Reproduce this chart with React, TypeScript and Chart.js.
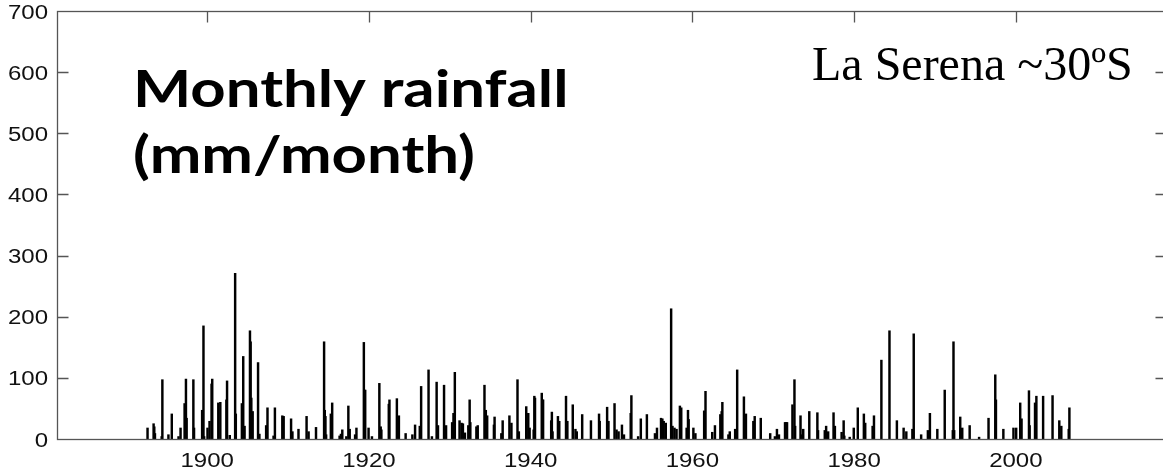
import React, { useEffect, useRef } from "react";
import { Chart, registerables } from "chart.js";

Chart.register(...registerables);

// Axis ranges and ticks
const X_MIN = 1890;
const X_MAX = 2010;
const Y_MIN = 0;
const Y_MAX = 700;
const xTicks = [1900, 1920, 1940, 1960, 1980, 2000];
const yTicks = [0, 100, 200, 300, 400, 500, 600, 700];

const titleLines = ["Monthly rainfall", "(mm/month)"];
const stationLabel = "La Serena ~30ºS";

// Monthly rainfall spikes: [year, month, mm]
const rain1890s: number[][] = [
  [1892, 8, 18],
  [1893, 5, 25], [1893, 6, 20], [1893, 7, 9],
  [1894, 5, 4], [1894, 6, 97],
  [1895, 3, 7], [1895, 8, 41],
  [1896, 6, 4], [1896, 9, 18],
  [1897, 3, 58], [1897, 5, 98], [1897, 6, 34],
  [1898, 4, 97], [1898, 5, 18],
  [1899, 5, 47], [1899, 7, 185], [1899, 8, 4],
];
const rain1900s: number[][] = [
  [1900, 1, 18], [1900, 4, 29], [1900, 7, 90], [1900, 8, 98],
  [1901, 5, 59], [1901, 8, 60],
  [1902, 5, 64], [1902, 6, 95], [1902, 10, 6],
  [1903, 6, 271], [1903, 7, 41],
  [1904, 4, 58], [1904, 6, 135], [1904, 8, 21],
  [1905, 4, 177], [1905, 5, 159], [1905, 6, 67], [1905, 8, 45],
  [1906, 4, 125], [1906, 6, 8],
  [1907, 4, 22], [1907, 6, 51],
  [1908, 3, 5], [1908, 5, 51],
  [1909, 4, 38], [1909, 6, 37],
];
const rain1910s: number[][] = [
  [1910, 5, 33], [1910, 7, 12],
  [1911, 4, 16],
  [1912, 4, 37], [1912, 7, 12],
  [1913, 6, 19],
  [1914, 6, 159], [1914, 7, 47], [1914, 8, 37], [1914, 9, 7],
  [1915, 4, 41], [1915, 6, 59],
  [1916, 5, 5], [1916, 7, 8], [1916, 9, 15],
  [1917, 3, 4], [1917, 6, 54], [1917, 8, 16],
  [1918, 4, 7], [1918, 6, 18],
  [1919, 5, 158], [1919, 6, 80], [1919, 7, 80], [1919, 12, 18],
];
const rain1920s: number[][] = [
  [1920, 5, 4],
  [1921, 4, 91], [1921, 6, 20], [1921, 7, 15],
  [1922, 6, 57], [1922, 7, 64],
  [1923, 6, 66], [1923, 9, 38],
  [1924, 7, 9],
  [1925, 5, 7], [1925, 9, 23],
  [1926, 4, 21], [1926, 6, 86],
  [1927, 5, 113], [1927, 10, 4],
  [1928, 5, 93], [1928, 7, 22],
  [1929, 4, 88], [1929, 7, 22],
];
const rain1930s: number[][] = [
  [1930, 4, 27], [1930, 6, 42], [1930, 8, 109],
  [1931, 3, 30], [1931, 6, 26], [1931, 8, 25], [1931, 11, 10],
  [1932, 4, 22], [1932, 6, 64], [1932, 7, 27],
  [1933, 4, 20], [1933, 6, 22],
  [1934, 4, 88], [1934, 6, 47], [1934, 8, 38],
  [1935, 6, 23], [1935, 7, 36],
  [1936, 5, 9], [1936, 7, 30],
  [1937, 5, 38], [1937, 8, 26],
  [1938, 5, 97], [1938, 7, 12],
  [1939, 6, 53], [1939, 9, 42], [1939, 11, 18],
];
const rain1940s: number[][] = [
  [1940, 5, 15], [1940, 6, 70], [1940, 7, 67],
  [1941, 5, 75], [1941, 6, 64], [1941, 7, 64],
  [1942, 7, 30], [1942, 8, 44], [1942, 9, 12],
  [1943, 5, 37], [1943, 7, 29],
  [1944, 5, 70], [1944, 7, 29],
  [1945, 3, 56], [1945, 7, 16], [1945, 9, 12],
  [1946, 5, 40],
  [1947, 6, 30],
  [1948, 6, 41], [1948, 7, 29],
  [1949, 6, 52], [1949, 8, 29],
];
const rain1950s: number[][] = [
  [1950, 5, 58], [1950, 8, 15], [1950, 11, 12],
  [1951, 4, 23], [1951, 7, 7],
  [1952, 5, 42], [1952, 6, 71],
  [1953, 4, 4], [1953, 8, 33],
  [1954, 5, 40],
  [1955, 5, 9], [1955, 8, 18],
  [1956, 2, 34], [1956, 4, 33], [1956, 6, 29], [1956, 9, 26],
  [1957, 5, 213], [1957, 7, 21], [1957, 10, 18],
  [1958, 1, 16], [1958, 6, 54], [1958, 8, 51],
  [1959, 4, 18], [1959, 6, 47], [1959, 7, 32],
];
const rain1960s: number[][] = [
  [1960, 2, 18], [1960, 5, 9],
  [1961, 6, 46], [1961, 8, 78],
  [1962, 6, 11], [1962, 10, 22],
  [1963, 6, 40], [1963, 8, 45], [1963, 9, 60],
  [1964, 6, 7], [1964, 8, 12],
  [1965, 4, 16], [1965, 7, 113],
  [1966, 5, 69], [1966, 8, 41],
  [1967, 7, 29], [1967, 9, 37],
  [1968, 6, 34],
  [1969, 8, 9],
];
const rain1970s: number[][] = [
  [1970, 3, 4], [1970, 6, 16], [1970, 9, 7],
  [1971, 6, 27], [1971, 7, 27], [1971, 8, 27], [1971, 9, 27],
  [1972, 5, 56], [1972, 8, 97], [1972, 9, 21],
  [1973, 5, 38], [1973, 7, 7], [1973, 9, 16],
  [1974, 6, 45],
  [1975, 6, 43], [1975, 7, 14],
  [1976, 5, 14], [1976, 7, 21], [1976, 10, 12],
  [1977, 6, 43], [1977, 8, 21],
  [1978, 6, 11], [1978, 9, 30], [1978, 10, 5],
  [1979, 6, 3], [1979, 12, 18],
];
const rain1980s: number[][] = [
  [1980, 6, 51],
  [1981, 3, 41], [1981, 5, 26],
  [1982, 4, 21], [1982, 6, 38],
  [1983, 5, 129],
  [1984, 5, 177],
  [1985, 4, 30],
  [1986, 2, 18], [1986, 6, 12],
  [1987, 3, 16], [1987, 5, 172],
  [1988, 4, 7],
  [1989, 2, 14], [1989, 5, 42],
];
const rain1990s: number[][] = [
  [1990, 4, 16],
  [1991, 3, 80],
  [1992, 3, 14], [1992, 4, 159], [1992, 5, 14],
  [1993, 2, 36], [1993, 5, 18],
  [1994, 4, 22],
  [1995, 6, 3],
  [1996, 8, 34],
  [1997, 6, 105], [1997, 7, 64],
  [1998, 6, 16],
  [1999, 9, 18],
];
const rain2000s: number[][] = [
  [2000, 1, 18], [2000, 7, 59], [2000, 9, 33],
  [2001, 8, 79], [2001, 9, 22],
  [2002, 5, 59], [2002, 7, 70],
  [2003, 5, 70],
  [2004, 7, 71],
  [2005, 5, 30], [2005, 8, 21],
  [2006, 7, 16], [2006, 8, 51],
];

const allRain = [
  ...rain1890s, ...rain1900s, ...rain1910s, ...rain1920s, ...rain1930s,
  ...rain1940s, ...rain1950s, ...rain1960s, ...rain1970s, ...rain1980s,
  ...rain1990s, ...rain2000s,
];

function drawScaledText(
  ctx: CanvasRenderingContext2D,
  text: string,
  x: number,
  y: number,
  align: CanvasTextAlign,
  sx: number
) {
  ctx.save();
  ctx.translate(x, y);
  ctx.scale(sx, 1);
  ctx.textAlign = align;
  ctx.fillText(text, 0, 0);
  ctx.restore();
}

const framePlugin = {
  id: "framePlugin",
  afterDatasetsDraw(chart: any) {
    const { ctx, chartArea: a, scales } = chart;
    const xs = scales.x;
    const ys = scales.y;
    ctx.save();
    // frame
    ctx.strokeStyle = "#555";
    ctx.lineWidth = 1.3;
    const L = Math.round(a.left) + 0.5;
    const T = Math.round(a.top) + 0.5;
    const R = Math.round(a.right) + 0.5;
    const B = Math.round(a.bottom) + 0.5;
    ctx.strokeRect(L, T, R - L, B - T);
    // inward ticks
    ctx.beginPath();
    yTicks.forEach((v) => {
      if (v <= Y_MIN || v >= Y_MAX) return;
      const py = Math.round(ys.getPixelForValue(v)) + 0.5;
      ctx.moveTo(L, py);
      ctx.lineTo(L + 11, py);
      ctx.moveTo(R, py);
      ctx.lineTo(R - 11, py);
    });
    xTicks.forEach((v) => {
      const px = Math.round(xs.getPixelForValue(v)) + 0.5;
      ctx.moveTo(px, T);
      ctx.lineTo(px, T + 11);
    });
    ctx.stroke();

    // tick labels
    ctx.fillStyle = "#111";
    ctx.font = "20px 'Liberation Sans', Arial, sans-serif";
    ctx.textBaseline = "middle";
    yTicks.forEach((v) => {
      drawScaledText(ctx, String(v), a.left - 9, ys.getPixelForValue(v) + 2, "right", 1.2);
    });
    xTicks.forEach((v) => {
      drawScaledText(ctx, String(v), xs.getPixelForValue(v), a.bottom + 22, "center", 1.2);
    });

    // title text (horizontally stretched like the reference)
    ctx.fillStyle = "#000";
    ctx.textBaseline = "alphabetic";
    ctx.font = "700 52px Lato, 'Open Sans', sans-serif";
    const w = ctx.measureText(titleLines[1]).width;
    const sx = 342 / w;
    drawScaledText(ctx, titleLines[0], 133, 107, "left", sx);
    drawScaledText(ctx, titleLines[1], 133, 173, "left", sx);

    // station label
    ctx.font = "48px 'Liberation Serif', 'Times New Roman', serif";
    ctx.textAlign = "left";
    ctx.fillText(stationLabel, 812, 80);
    ctx.restore();
  },
};

export default function App() {
  const canvasRef = useRef<HTMLCanvasElement | null>(null);

  useEffect(() => {
    const canvas = canvasRef.current;
    if (!canvas) return;
    const points = allRain.map(([yr, m, v]) => ({ x: yr + (m - 0.5) / 12, y: v }));
    const chart = new Chart(canvas, {
      type: "bar",
      data: {
        datasets: [
          {
            data: points as any,
            backgroundColor: "#000",
            borderWidth: 0,
            barThickness: 1.8,
          },
        ],
      },
      options: {
        animation: false,
        responsive: false,
        maintainAspectRatio: false,
        layout: { padding: { left: 57, top: 11, right: 14, bottom: 34 } },
        plugins: { legend: { display: false }, tooltip: { enabled: false } },
        scales: {
          x: { type: "linear", display: false, min: X_MIN, max: X_MAX },
          y: { type: "linear", display: false, min: Y_MIN, max: Y_MAX },
        },
      },
      plugins: [framePlugin],
    });
    return () => chart.destroy();
  }, []);

  return (
    <div
      style={{
        position: "fixed",
        left: 0,
        top: 0,
        width: 1163,
        height: 473,
        overflow: "hidden",
        background: "#fff",
      }}
    >
      <canvas
        ref={canvasRef}
        width={1180}
        height={473}
        style={{ display: "block", width: 1180, height: 473 }}
      />
    </div>
  );
}
